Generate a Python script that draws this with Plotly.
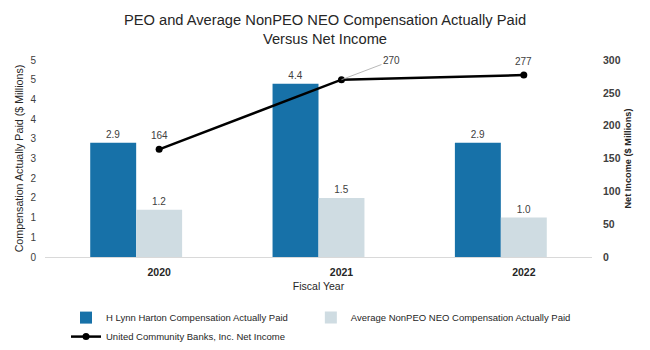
import plotly.graph_objects as go

# ---- data ----
years = ["2020", "2021", "2022"]
peo_cap = [2.9, 4.4, 2.9]
neo_cap = [1.2, 1.5, 1.0]
net_income = [164, 270, 277]
left_ticks = [0, 0.5, 1, 1.5, 2, 2.5, 3, 3.5, 4, 4.5, 5]
right_ticks = [0, 50, 100, 150, 200, 250, 300]

names = [
    "H Lynn Harton Compensation Actually Paid",
    "Average NonPEO NEO Compensation Actually Paid",
    "United Community Banks, Inc. Net Income",
]

FONT = "Liberation Sans, Arial, Helvetica, sans-serif"
DARK = "#1771A8"
LIGHT = "#CFDCE2"
TXT = "#404040"
TXT2 = "#262626"

idx = list(range(len(years)))
bw = 0.252

fig = go.Figure()
fig.add_bar(
    x=idx, y=peo_cap, width=bw, offset=-bw, name=names[0], legend="legend",
    marker=dict(color=DARK, line=dict(width=0)),
    text=[f"{v:.1f}" for v in peo_cap], textposition="outside",
    textfont=dict(size=10, color=TXT, family=FONT), cliponaxis=False,
)
fig.add_bar(
    x=idx, y=neo_cap, width=bw, offset=0, name=names[1], legend="legend2",
    marker=dict(color=LIGHT, line=dict(width=0)),
    text=[f"{v:.1f}" for v in neo_cap], textposition="outside",
    textfont=dict(size=10, color=TXT, family=FONT), cliponaxis=False,
)
line_x = [i + bw / 2 for i in idx]
fig.add_scatter(
    x=line_x, y=net_income, yaxis="y2", name=names[2], legend="legend",
    mode="lines+markers",
    line=dict(color="#000000", width=2.5),
    marker=dict(color="#000000", size=7), cliponaxis=False,
)

annotations = []
for i, v in enumerate(net_income):
    if i == 1:
        annotations.append(dict(
            x=line_x[i], y=v, xref="x", yref="y2", text=str(v),
            showarrow=True, arrowhead=0, arrowwidth=0.8, arrowcolor="#A6A6A6",
            ax=50, ay=-19, font=dict(size=10, color=TXT, family=FONT),
        ))
    else:
        annotations.append(dict(
            x=line_x[i], y=v, xref="x", yref="y2", text=str(v),
            showarrow=False, yshift=14, font=dict(size=10, color=TXT, family=FONT),
        ))

legend_font = dict(size=9.5, color=TXT2, family=FONT)

fig.update_layout(
    width=650, height=350,
    margin=dict(l=45, r=58, t=60, b=93),
    paper_bgcolor="white", plot_bgcolor="white",
    font=dict(family=FONT, color=TXT),
    barmode="overlay",
    title=dict(
        text="PEO and Average NonPEO NEO Compensation Actually Paid<br>Versus Net Income",
        x=0.5, xref="container", xanchor="center",
        y=0.928, yref="container", yanchor="top",
        font=dict(size=14.7, color=TXT2, family=FONT),
    ),
    xaxis=dict(
        range=[-0.5, 2.5], tickvals=line_x,
        ticktext=[f"<b>{y}</b>" for y in years], showgrid=False, zeroline=False,
        showline=True, linecolor="#D9D9D9", linewidth=1, ticks="",
        tickfont=dict(size=10.5, color=TXT2, family=FONT), ticklabelstandoff=5,
        title=dict(text="Fiscal Year", standoff=6,
                   font=dict(size=10.5, color=TXT2, family=FONT)),
    ),
    yaxis=dict(
        range=[0, 5], tickvals=left_ticks,
        ticktext=[str(int(v + 0.5)) for v in left_ticks],
        showgrid=False, zeroline=False, showline=False, ticks="",
        tickfont=dict(size=10, color=TXT, family=FONT), ticklabelstandoff=8,
        title=dict(text="Compensation Actually Paid ($ Millions)", standoff=4,
                   font=dict(size=10.7, color=TXT2, family=FONT)),
    ),
    yaxis2=dict(
        range=[0, 300], tickvals=right_ticks,
        ticktext=[f"<b>{v}</b>" for v in right_ticks],
        overlaying="y", side="right", showgrid=False, zeroline=False,
        showline=False, ticks="",
        tickfont=dict(size=10.5, color=TXT, family=FONT), ticklabelstandoff=10,
        title=dict(text="<b>Net Income ($ Millions)</b>", standoff=4,
                   font=dict(size=9.2, color=TXT2, family=FONT)),
    ),
    legend=dict(
        orientation="v", x=0.0384, xref="paper", xanchor="left",
        y=0.134, yref="container", yanchor="top",
        traceorder="normal", font=legend_font, bgcolor="rgba(0,0,0,0)",
    ),
    legend2=dict(
        orientation="v", x=0.486, xref="paper", xanchor="left",
        y=0.134, yref="container", yanchor="top",
        traceorder="normal", font=legend_font, bgcolor="rgba(0,0,0,0)",
    ),
    annotations=annotations,
    showlegend=True,
)

fig.write_html("out.html")
